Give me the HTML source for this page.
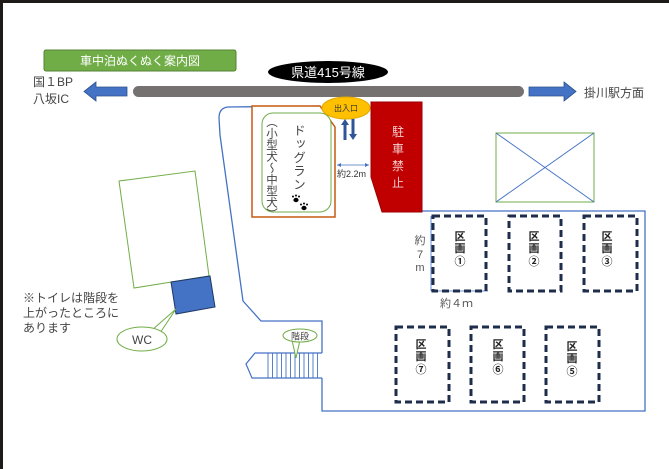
<!DOCTYPE html>
<html><head><meta charset="utf-8"><style>
html,body{margin:0;padding:0;background:#fff;}
svg{display:block;font-family:"Liberation Sans","Noto Sans CJK JP",sans-serif;}
</style></head><body>
<svg width="669" height="469" viewBox="0 0 669 469" xmlns="http://www.w3.org/2000/svg">
<rect width="669" height="469" fill="#fff"/>
<rect x="0" y="0" width="669" height="3" fill="#1e1a18"/>
<rect x="0" y="0" width="3" height="469" fill="#1e1a18"/>

<!-- title -->
<rect x="44" y="50" width="192" height="21" rx="2" fill="#70ad47" stroke="#548235"/>
<text x="140" y="65" font-size="12" fill="#fff" text-anchor="middle">車中泊ぬくぬく案内図</text>
<ellipse cx="328" cy="72" rx="60" ry="11" fill="#000"/>
<text x="328" y="77" font-size="13" fill="#fff" text-anchor="middle">県道415号線</text>

<!-- road -->
<rect x="133" y="86" width="391" height="11" rx="5.5" fill="#767171"/>
<polygon points="84,91.5 96,82 96,87 127,87 127,96 96,96 96,101" fill="#4472c4" stroke="#2f528f" stroke-width="0.8"/>
<polygon points="576,91.5 564,82 564,87 529,87 529,96 564,96 564,101" fill="#4472c4" stroke="#2f528f" stroke-width="0.8"/>
<text x="33" y="86" font-size="12" fill="#444">国１BP</text>
<text x="33" y="103" font-size="12" fill="#444">八坂IC</text>
<text x="584" y="97" font-size="12" fill="#444">掛川駅方面</text>

<!-- site boundary -->
<path d="M320,106 L228,107 Q219,108 219,118 L220,135 L243,301 L261,321 L322,321 L322,353 M322,378 L322,411 L645,411 L645,211 L422,211" fill="none" stroke="#4472c4" stroke-width="1.3"/>
<!-- stairs -->
<path d="M322,353 L255,353 L246,364 L252,378 L322,378" fill="none" stroke="#4472c4" stroke-width="1.2"/>
<g stroke="#4472c4" stroke-width="0.9">
<line x1="268" y1="353" x2="268" y2="378"/><line x1="272.5" y1="353" x2="272.5" y2="378"/><line x1="277" y1="353" x2="277" y2="378"/><line x1="281.5" y1="353" x2="281.5" y2="378"/><line x1="286" y1="353" x2="286" y2="378"/><line x1="290.5" y1="353" x2="290.5" y2="378"/><line x1="295" y1="353" x2="295" y2="378"/><line x1="299.5" y1="353" x2="299.5" y2="378"/><line x1="304" y1="353" x2="304" y2="378"/><line x1="308.5" y1="353" x2="308.5" y2="378"/><line x1="313" y1="353" x2="313" y2="378"/><line x1="317.5" y1="353" x2="317.5" y2="378"/>
</g>
<path d="M292,340 L296,358 L300,340" fill="#fff" stroke="#70ad47"/>
<ellipse cx="300" cy="335.5" rx="17" ry="6.5" fill="#fff" stroke="#70ad47"/>
<text x="300" y="339.5" font-size="9" fill="#444" text-anchor="middle">階段</text>

<!-- dog run -->
<polygon points="252,106 320,106 335,127 335,217 252,217" fill="#fff" stroke="#c55a11" stroke-width="1.5"/>
<rect x="262" y="113" width="69" height="99" rx="11" fill="#fff" stroke="#70ad47"/>
<text font-size="12.5" fill="#444" x="298" y="124" style="writing-mode:vertical-rl" letter-spacing="1">ドッグラン</text>
<text font-size="11.5" fill="#444" x="271" y="116" style="writing-mode:vertical-rl">（小型犬～中型犬）</text>
<g fill="#000">
<ellipse cx="296" cy="200" rx="2.6" ry="2.2"/><circle cx="293" cy="196.5" r="1"/><circle cx="296" cy="195.5" r="1"/><circle cx="299" cy="196.5" r="1"/>
<ellipse cx="304" cy="208" rx="2.6" ry="2.2"/><circle cx="301" cy="204.5" r="1"/><circle cx="304" cy="203.5" r="1"/><circle cx="307" cy="204.5" r="1"/>
</g>

<!-- entrance -->
<ellipse cx="346" cy="108" rx="24" ry="11" fill="#ffc000" stroke="#e0a800"/>
<text x="346" y="111" font-size="8" fill="#333" text-anchor="middle">出入口</text>
<polygon points="345,119 341,125 343.5,125 343.5,140 346.5,140 346.5,125 349,125" fill="#2f5597"/>
<polygon points="353,140 349,134 351.5,134 351.5,119 354.5,119 354.5,134 357,134" fill="#2f5597"/>
<line x1="337" y1="165" x2="369" y2="165" stroke="#4472c4" stroke-width="0.8"/>
<polygon points="337,165 341,163 341,167" fill="#4472c4"/><polygon points="369,165 365,163 365,167" fill="#4472c4"/>
<text x="337" y="177" font-size="9" fill="#333">約2.2m</text>

<!-- no parking -->
<polygon points="371,102 422,102 422,212 382,212 371,177" fill="#c00000" stroke="#9c0000"/>
<text x="398" y="136" font-size="12" fill="#f4cccc" text-anchor="middle">駐</text>
<text x="398" y="153" font-size="12" fill="#f4cccc" text-anchor="middle">車</text>
<text x="398" y="170" font-size="12" fill="#f4cccc" text-anchor="middle">禁</text>
<text x="398" y="187" font-size="12" fill="#f4cccc" text-anchor="middle">止</text>

<!-- crossed rect -->
<rect x="496" y="133" width="98" height="69" fill="#fff" stroke="#70ad47"/>
<line x1="496" y1="133" x2="594" y2="202" stroke="#4472c4"/><line x1="594" y1="133" x2="496" y2="202" stroke="#4472c4"/>

<!-- building and WC -->
<polygon points="119,181 195,171 209,276 134,288" fill="#fff" stroke="#70ad47"/>
<polygon points="171,282 210,276 215,307 176,314" fill="#4472c4" stroke="#1f3864"/>
<path d="M152,330 L176,309 L160,333" fill="#fff" stroke="#70ad47"/>
<ellipse cx="142" cy="339" rx="25" ry="12" fill="#fff" stroke="#70ad47"/>
<text x="142" y="344" font-size="12" fill="#444" text-anchor="middle">WC</text>
<text x="23" y="302" font-size="12" fill="#444">※トイレは階段を</text>
<text x="23" y="317" font-size="12" fill="#444">上がったところに</text>
<text x="23" y="332" font-size="12" fill="#444">あります</text>

<!-- dimensions -->
<line x1="431" y1="216" x2="431" y2="291" stroke="#4472c4" stroke-width="0.8"/>
<line x1="431" y1="291" x2="488" y2="291" stroke="#4472c4" stroke-width="0.8"/>
<text x="420" y="244" font-size="11" fill="#555" text-anchor="middle">約</text>
<text x="420" y="258" font-size="11" fill="#555" text-anchor="middle">7</text>
<text x="420" y="271" font-size="11" fill="#555" text-anchor="middle">m</text>
<text x="440" y="307" font-size="11" fill="#555">約４ｍ</text>

<!-- lots -->
<g fill="none" stroke="#1f2d4d" stroke-width="3" stroke-dasharray="7,4">
<rect x="433" y="216" width="53" height="75"/>
<rect x="509" y="216" width="52" height="75"/>
<rect x="584" y="216" width="53" height="75"/>
<rect x="396" y="327" width="53" height="75"/>
<rect x="471" y="327" width="53" height="75"/>
<rect x="546" y="327" width="53" height="75"/>
</g>
<g font-size="11" font-weight="bold" fill="#222" text-anchor="middle">
<text x="460" y="240">区</text><text x="460" y="252">画</text><text x="460" y="265">①</text>
<text x="534" y="240">区</text><text x="534" y="252">画</text><text x="534" y="265">②</text>
<text x="607" y="240">区</text><text x="607" y="252">画</text><text x="607" y="265">③</text>
<text x="421" y="348">区</text><text x="421" y="360">画</text><text x="421" y="373">⑦</text>
<text x="498" y="348">区</text><text x="498" y="360">画</text><text x="498" y="373">⑥</text>
<text x="572" y="350">区</text><text x="572" y="362">画</text><text x="572" y="375">⑤</text>
</g>
</svg>
</body></html>
